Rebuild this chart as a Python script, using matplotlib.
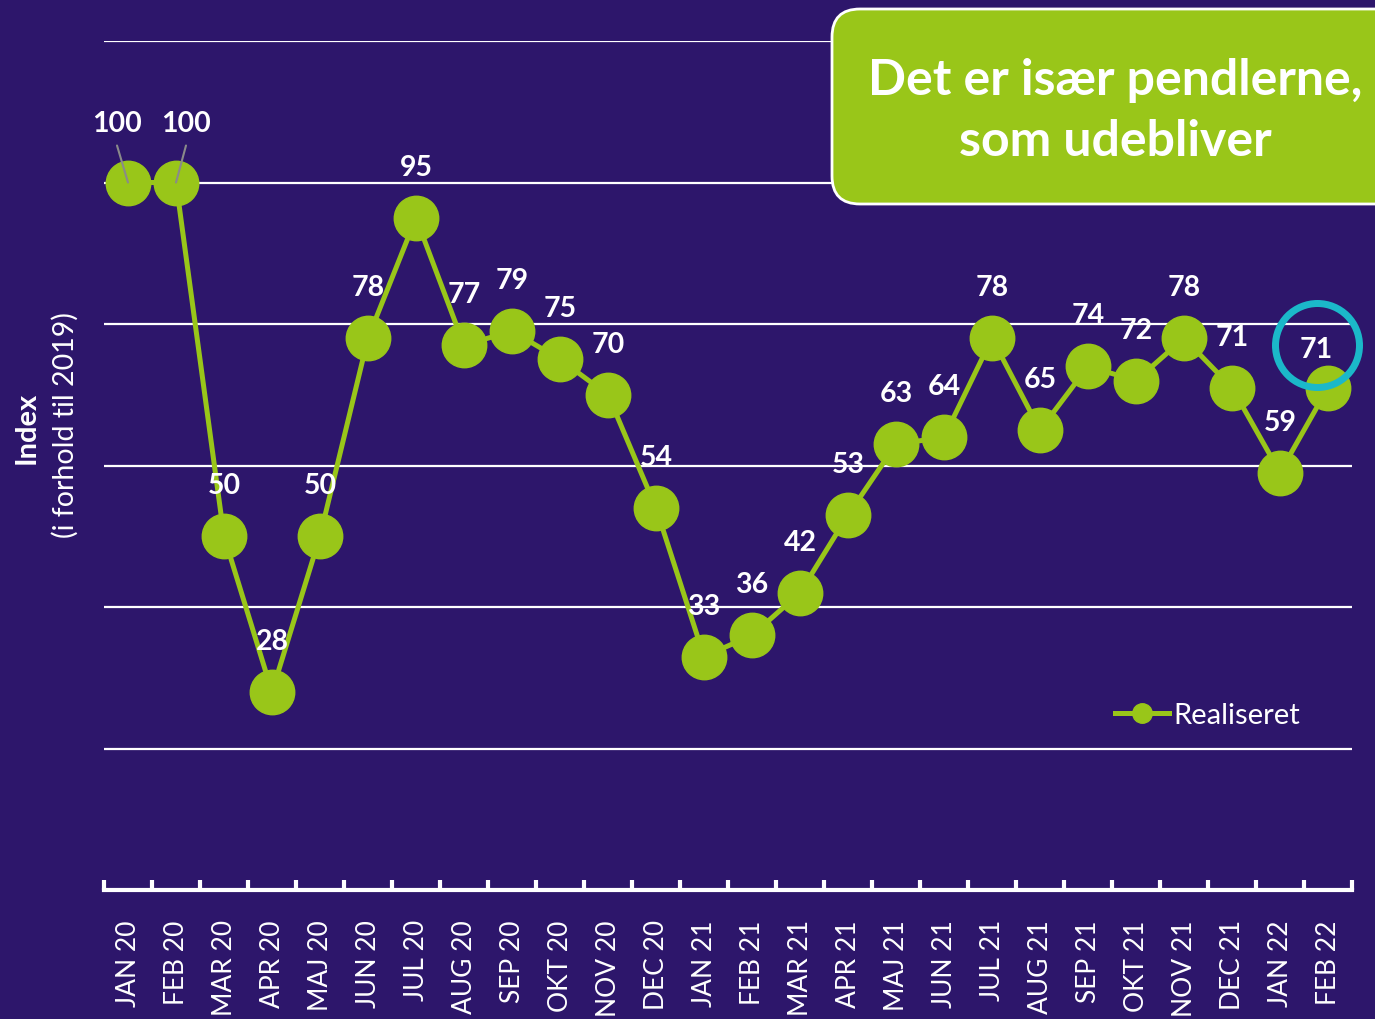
import matplotlib
matplotlib.use("Agg")
import matplotlib.pyplot as plt
from matplotlib.patches import FancyBboxPatch
from matplotlib.lines import Line2D
from matplotlib import transforms

months = ["JAN 20", "FEB 20", "MAR 20", "APR 20", "MAJ 20", "JUN 20", "JUL 20",
          "AUG 20", "SEP 20", "OKT 20", "NOV 20", "DEC 20", "JAN 21", "FEB 21",
          "MAR 21", "APR 21", "MAJ 21", "JUN 21", "JUL 21", "AUG 21", "SEP 21",
          "OKT 21", "NOV 21", "DEC 21", "JAN 22", "FEB 22"]
realiseret = [100, 100, 50, 28, 50, 78, 95, 77, 79, 75, 70, 54, 33, 36, 42,
              53, 63, 64, 78, 65, 74, 72, 78, 71, 59, 71]
gridvals = [20, 40, 60, 80, 100, 120]

BG = "#2d166b"
GREEN = "#99c619"
TEAL = "#1bb8c9"
FONT = "Lato"

plt.rcParams['font.family'] = [FONT, 'DejaVu Sans']

DPI = 100
fig = plt.figure(figsize=(13.75, 10.2), dpi=DPI, facecolor=BG)
ax = fig.add_axes([104/1375, (1020-891)/1020, (1352-104)/1375, (891-42)/1020])
ax.set_facecolor(BG)

x = list(range(len(months)))
ax.set_xlim(-0.5, len(months) - 0.5)
ax.set_ylim(0, 120)

for g in gridvals:
    ax.axhline(g, color="white", lw=1.6, zorder=1)

ax.plot(x, realiseret, color=GREEN, lw=3.6, marker="o", markersize=32,
        markerfacecolor=GREEN, markeredgecolor=GREEN, zorder=3, clip_on=False,
        solid_joinstyle="round")

# value labels
px = 0.72  # points per pixel at 100 dpi
for i, v in enumerate(realiseret):
    dx, dy = 0, 51
    if i == 0:
        dx, dy = -11, 59
    elif i == 1:
        dx, dy = 10, 59
    elif i == len(realiseret) - 1:
        dx, dy = -12, 39
    ax.annotate(str(v), (i, v), xytext=(dx*px, dy*px), textcoords="offset points",
                ha="center", va="center", color="white", fontsize=20.5,
                fontweight="bold", zorder=6, annotation_clip=False)
    if i in (0, 1):
        ax.annotate("", (i, v), xytext=(dx*px, 37*px), textcoords="offset points",
                    arrowprops=dict(arrowstyle="-", color="#8a8a8a", lw=1.5,
                                    shrinkA=0, shrinkB=0), zorder=5)

# highlight circle around last label
off = transforms.offset_copy(ax.transData, fig=fig, x=-11, y=43, units="dots")
ax.plot([x[-1]], [realiseret[-1]], marker="o", markersize=84*px,
        markerfacecolor="none", markeredgecolor=TEAL, markeredgewidth=7*px,
        transform=off, zorder=7, clip_on=False)

# axes styling
for s in ["top", "left", "right"]:
    ax.spines[s].set_visible(False)
ax.spines["bottom"].set_color("white")
ax.spines["bottom"].set_linewidth(3)
ax.spines["bottom"].set_zorder(2)
ax.set_yticks([])
ax.set_xticks([i - 0.5 for i in range(len(months) + 1)])
ax.set_xticklabels([])
ax.tick_params(axis="x", direction="in", length=7, width=3, color="white")
ax.set_xticks(x, minor=True)
ax.set_xticklabels(months, minor=True, rotation=90, color="white", fontsize=19,
                   va="top", ha="center")
ax.tick_params(axis="x", which="minor", length=0, pad=21)

# y label
fig.text(27/1375, 1 - 428/1020, "Index", rotation=90, ha="center", va="center",
         color="white", fontsize=21, fontweight="bold")
fig.text(65/1375, 1 - 425/1020, "(i forhold til 2019)", rotation=90, ha="center",
         va="center", color="white", fontsize=20.5)

# legend
handle = Line2D([], [], color=GREEN, lw=3.6, marker="o", markersize=14)
leg = fig.legend([handle], ["Realiseret"], loc="center left",
                 bbox_to_anchor=(1115/1375, 1 - 716/1020), frameon=False,
                 fontsize=21, handlelength=1.85, handletextpad=0.15,
                 labelcolor="white", borderaxespad=0, borderpad=0)

# callout box
ident = transforms.IdentityTransform()
box = FancyBboxPatch((832, 1020 - 205), 620, 195,
                     boxstyle="round,pad=0,rounding_size=28",
                     transform=ident, facecolor=GREEN, edgecolor="white",
                     lw=2, zorder=10)
fig.add_artist(box)
fig.text(1115/1375, 1 - 111/1020, "Det er især pendlerne,\nsom udebliver",
         ha="center", va="center", color="white", fontsize=36, fontweight="bold",
         linespacing=1.45, zorder=11)

fig.savefig("out.png", dpi=DPI, facecolor=BG)
